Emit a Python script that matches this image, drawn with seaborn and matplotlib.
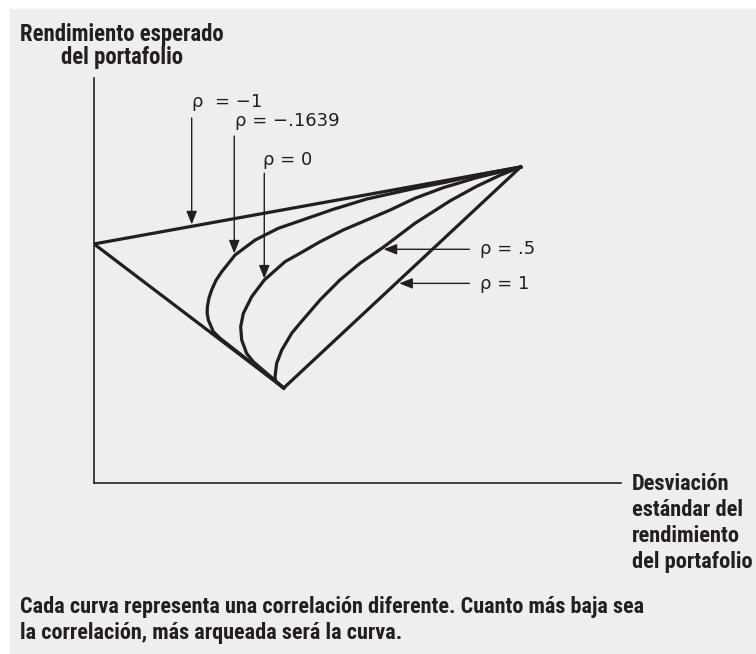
import matplotlib
matplotlib.use("Agg")
import matplotlib.pyplot as plt
import seaborn as sns
import pandas as pd
from matplotlib import font_manager
from matplotlib.patches import Rectangle

# Values: desviación estándar (%) and rendimiento esperado (%)
sigma_rho_m1 = [11.5, 0.0, 25.86]
rend_rho_m1 = [5.5, 13.32, 17.5]

sigma_rho_m1639 = [11.5, 7.64, 7.23, 6.93, 6.86, 6.87, 6.97, 7.13, 7.39, 7.74, 8.55, 9.76,
                   11.17, 12.79, 14.50, 16.53, 19.45, 21.15, 23.39, 25.86]
rend_rho_m1639 = [5.5, 8.20, 8.56, 9.19, 9.55, 9.91, 10.39, 10.82, 11.34, 11.81, 12.72, 13.53,
                  14.17, 14.67, 15.20, 15.76, 16.34, 16.64, 17.09, 17.5]

sigma_rho_0 = [11.5, 9.64, 9.25, 8.95, 8.89, 9.05, 9.56, 10.32, 11.58, 12.48, 13.70, 15.11,
               16.53, 17.94, 19.45, 21.15, 23.19, 25.86]
rend_rho_0 = [5.5, 6.94, 7.38, 8.11, 8.83, 9.55, 10.46, 11.36, 12.36, 12.81, 13.44, 14.08,
              14.62, 15.16, 15.80, 16.37, 16.92, 17.5]

sigma_rho_05 = [11.5, 11.01, 10.97, 11.07, 11.38, 11.98, 12.48, 13.70, 14.91, 16.12, 17.53,
                19.45, 21.58, 23.19, 24.61, 25.86]
rend_rho_05 = [5.5, 5.84, 6.11, 6.84, 7.56, 8.47, 9.01, 10.28, 11.37, 12.27, 13.14,
               14.44, 15.66, 16.45, 17.05, 17.5]

sigma_rho_1 = [11.5, 25.86]
rend_rho_1 = [5.5, 17.5]

curvas = {
    "-1": (sigma_rho_m1, rend_rho_m1),
    "-.1639": (sigma_rho_m1639, rend_rho_m1639),
    "0": (sigma_rho_0, rend_rho_0),
    ".5": (sigma_rho_05, rend_rho_05),
    "1": (sigma_rho_1, rend_rho_1),
}

df = pd.concat(
    [pd.DataFrame({"sigma": s, "rend": r, "rho": k}) for k, (s, r) in curvas.items()],
    ignore_index=True,
)

ink = "#231f20"

# pick a narrow bold face if one is installed, else Roboto
installed = {f.name for f in font_manager.fontManager.ttflist}
bold_family = "Roboto"
for cand in ["Liberation Sans Narrow", "Roboto Condensed", "DejaVu Sans Condensed"]:
    if cand in installed:
        bold_family = cand
        break
bold_font = dict(family=[bold_family, "DejaVu Sans"], fontweight="bold", color=ink)

fig = plt.figure(figsize=(7.56, 6.54), dpi=100)
fig.add_artist(Rectangle((10 / 756, 0), 1 - 10 / 756, 1 - 9 / 654,
                         transform=fig.transFigure, color="#eeeeee", zorder=-10))

ax = fig.add_axes([94 / 756, 1 - 483 / 654, 527 / 756, 405 / 654])
ax.set_facecolor("none")

sns.lineplot(data=df, x="sigma", y="rend", hue="rho", units="rho", estimator=None,
             sort=False, palette=[ink] * 5, linewidth=2.3, legend=False, ax=ax)

ax.set_xlim(0, 31.94)
ax.set_ylim(0.342, 22.33)
ax.set_xticks([])
ax.set_yticks([])
ax.set_xlabel("")
ax.set_ylabel("")
sns.despine(ax=ax)
for side in ["left", "bottom"]:
    ax.spines[side].set_color(ink)
    ax.spines[side].set_linewidth(1.2)

# arrows: (label, text position, arrow start, arrow tip)
arrow_kw = dict(arrowstyle="-|>,head_length=0.8,head_width=0.32", color=ink, lw=1.0,
                shrinkA=0, shrinkB=0)
etiquetas = [
    ("ρ  = −1", (5.94, 20.75), "baseline", (5.92, 20.16), (5.92, 14.38)),
    ("ρ = −.1639", (8.55, 19.72), "baseline", (8.50, 19.18), (8.50, 12.80)),
    ("ρ = 0", (10.26, 17.61), "baseline", (10.32, 17.16), (10.32, 11.44)),
    ("ρ = .5", (23.39, 13.04), "center", (22.75, 13.03), (17.55, 13.03)),
    ("ρ = 1", (23.39, 11.17), "center", (22.75, 11.18), (18.50, 11.18)),
]
for txt, pos, va, start, tip in etiquetas:
    ax.text(pos[0], pos[1], txt, ha="left", va=va, fontsize=13, color=ink)
    ax.annotate("", xy=tip, xytext=start, arrowprops=arrow_kw)


def bloque(lines, x, baselines, ha, target_w):
    # one text per line at its baseline, sized so the widest line spans target_w px
    ts = [fig.text(x / 756, 1 - b / 654, s, ha=ha, va="baseline", fontsize=14, **bold_font)
          for s, b in zip(lines, baselines)]
    fig.canvas.draw()
    rend = fig.canvas.get_renderer()
    w = max(t.get_window_extent(rend).width for t in ts)
    for t in ts:
        t.set_fontsize(14 * target_w / w)


bloque(["Rendimiento esperado", "del portafolio"], 122, [41, 64], "center", 205)
bloque(["Desviación", "estándar del", "rendimiento", "del portafolio"], 632,
       [490, 516, 542, 568], "left", 121)
bloque(["Cada curva representa una correlación diferente. Cuanto más baja sea",
        "la correlación, más arqueada será la curva."], 20, [613, 639], "left", 628)

fig.savefig("out.png", dpi=100, facecolor="white")
